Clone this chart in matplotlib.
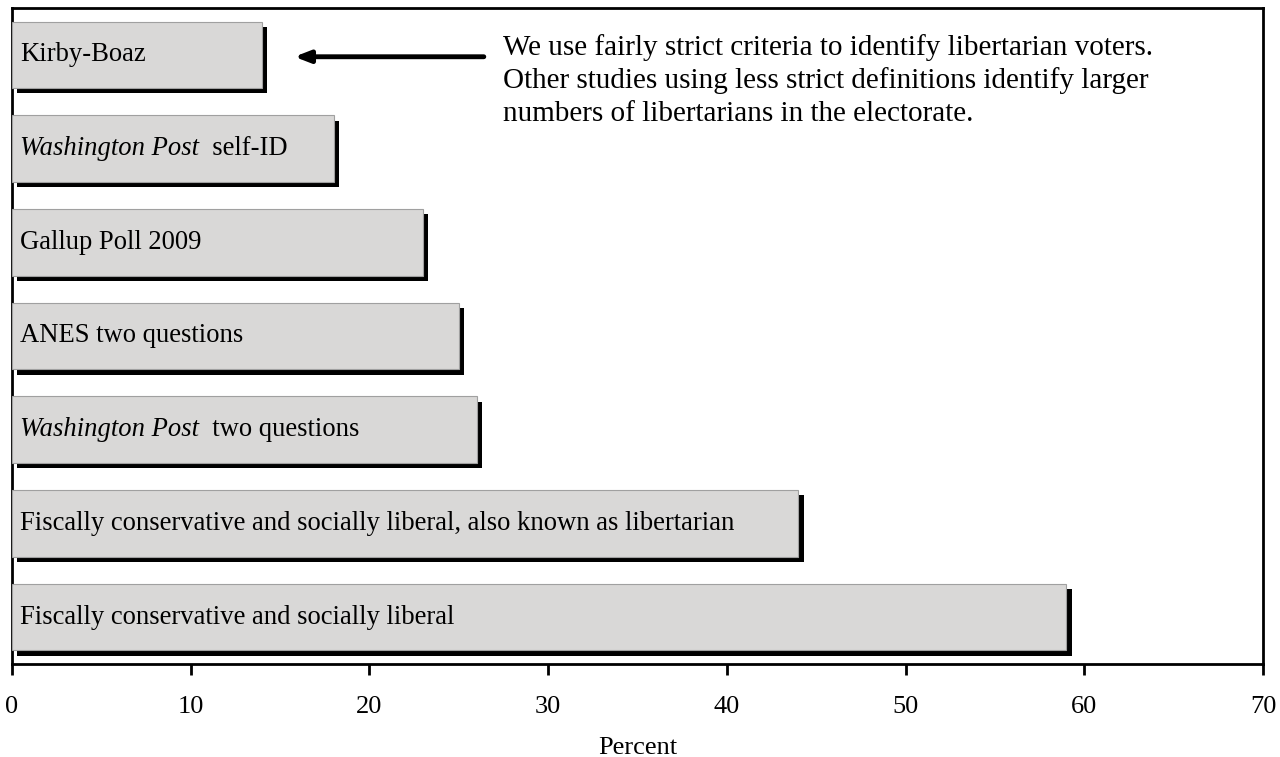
import matplotlib.pyplot as plt
import matplotlib.patheffects as pe

plt.rcParams['font.family'] = ['Liberation Serif', 'DejaVu Serif']

# top to bottom
labels = ['Kirby-Boaz', 'Washington Post|self-ID', 'Gallup Poll 2009', 'ANES two questions',
          'Washington Post|two questions',
          'Fiscally conservative and socially liberal, also known as libertarian',
          'Fiscally conservative and socially liberal']
values = [14, 18, 23, 25, 26, 44, 59]
note = ('We use fairly strict criteria to identify libertarian voters.\n'
        'Other studies using less strict definitions identify larger\n'
        'numbers of libertarians in the electorate.')

fig = plt.figure(figsize=(12.8, 7.57), dpi=100)
ax = fig.add_axes([0.0094, 0.1229, 0.9773, 0.8665])

ypos = list(range(len(values)))[::-1]
bars = ax.barh(ypos, values, height=0.71, color='#d9d8d7', edgecolor='#a0a0a0', linewidth=0.8,
               zorder=3)
for b in bars:
    b.set_path_effects([pe.SimplePatchShadow(offset=(3.8, -3.8), shadow_rgbFace='black', alpha=1.0),
                        pe.Normal()])

fs = 19.2
for y, lab in zip(ypos, labels):
    if '|' in lab:
        it, rest = lab.split('|')
        t = ax.text(0.45, y, it, fontsize=fs, style='italic', va='center', ha='left', zorder=5)
        ax.annotate('  ' + rest, xy=(1, 0.5), xycoords=t, fontsize=fs, va='center', ha='left',
                    zorder=5)
    else:
        ax.text(0.45, y, lab, fontsize=fs, va='center', ha='left', zorder=5)

ax.text(27.5, 5.73, note, fontsize=21, va='center', ha='left', linespacing=1.32)
ax.annotate('', xy=(15.8, 5.98), xytext=(26.4, 5.98),
            arrowprops=dict(arrowstyle='-|>,head_length=0.9,head_width=0.35', color='black', lw=3.5,
                            shrinkA=0, shrinkB=0))

ax.set_xlim(0, 70)
ax.set_ylim(-0.5, 6.5)
ax.set_xticks(range(0, 71, 10))
ax.set_yticks([])
ax.tick_params(axis='x', direction='out', length=8, width=2, labelsize=19, pad=15)
for s in ax.spines.values():
    s.set_linewidth(2)
ax.set_xlabel('Percent', fontsize=19, labelpad=14)

fig.savefig('out.png', dpi=100)
